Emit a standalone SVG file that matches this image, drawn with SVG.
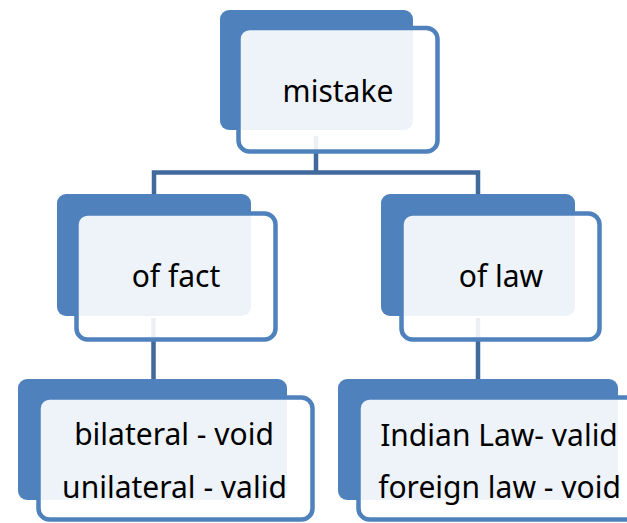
<svg xmlns="http://www.w3.org/2000/svg" width="627" height="523" viewBox="0 0 627 523">
<style>
.back{fill:#4F81BD}
.front{fill:#FFFFFF;fill-opacity:0.9;stroke:#4F81BD;stroke-width:4.5}
.conn{fill:none;stroke:#41699C;stroke-width:4.5}
text{font-family:"Noto Sans","Open Sans","Liberation Sans",sans-serif;font-size:30px;fill:#000;text-anchor:middle}
</style>
<rect width="627" height="523" fill="#FFFFFF"/>
<g id="connectors">
<path class="conn" d="M154,196 V172.5 H478 V196 M316,136 V172.5"/>
<path class="conn" d="M153.5,318 V381 M478,318 V381"/>
</g>
<g id="node-mistake">
<rect class="back" x="220" y="10" width="193" height="120" rx="9"/>
<rect class="front" x="238.5" y="28" width="199" height="123.5" rx="11"/>
<text x="338" y="102">mistake</text>
</g>
<g id="node-of-fact">
<rect class="back" x="57" y="194" width="194" height="122" rx="9"/>
<rect class="front" x="76.5" y="213.5" width="199" height="126" rx="11"/>
<text x="176" y="287">of fact</text>
</g>
<g id="node-of-law">
<rect class="back" x="381" y="194" width="194" height="122" rx="9"/>
<rect class="front" x="401.5" y="213.5" width="198" height="126" rx="11"/>
<text x="501" y="287">of law</text>
</g>
<g id="node-fact-detail">
<rect class="back" x="18" y="379" width="269" height="121" rx="9"/>
<rect class="front" x="38.5" y="397.5" width="274" height="122" rx="11"/>
<text x="174" y="445">bilateral - void</text>
<text x="174.5" y="498">unilateral - valid</text>
</g>
<g id="node-law-detail">
<rect class="back" x="338" y="379" width="280" height="121" rx="9"/>
<rect class="front" x="358.5" y="397.5" width="300" height="122" rx="11"/>
<text x="499" y="446">Indian Law- valid</text>
<text x="499.5" y="498">foreign law - void</text>
</g>
</svg>
